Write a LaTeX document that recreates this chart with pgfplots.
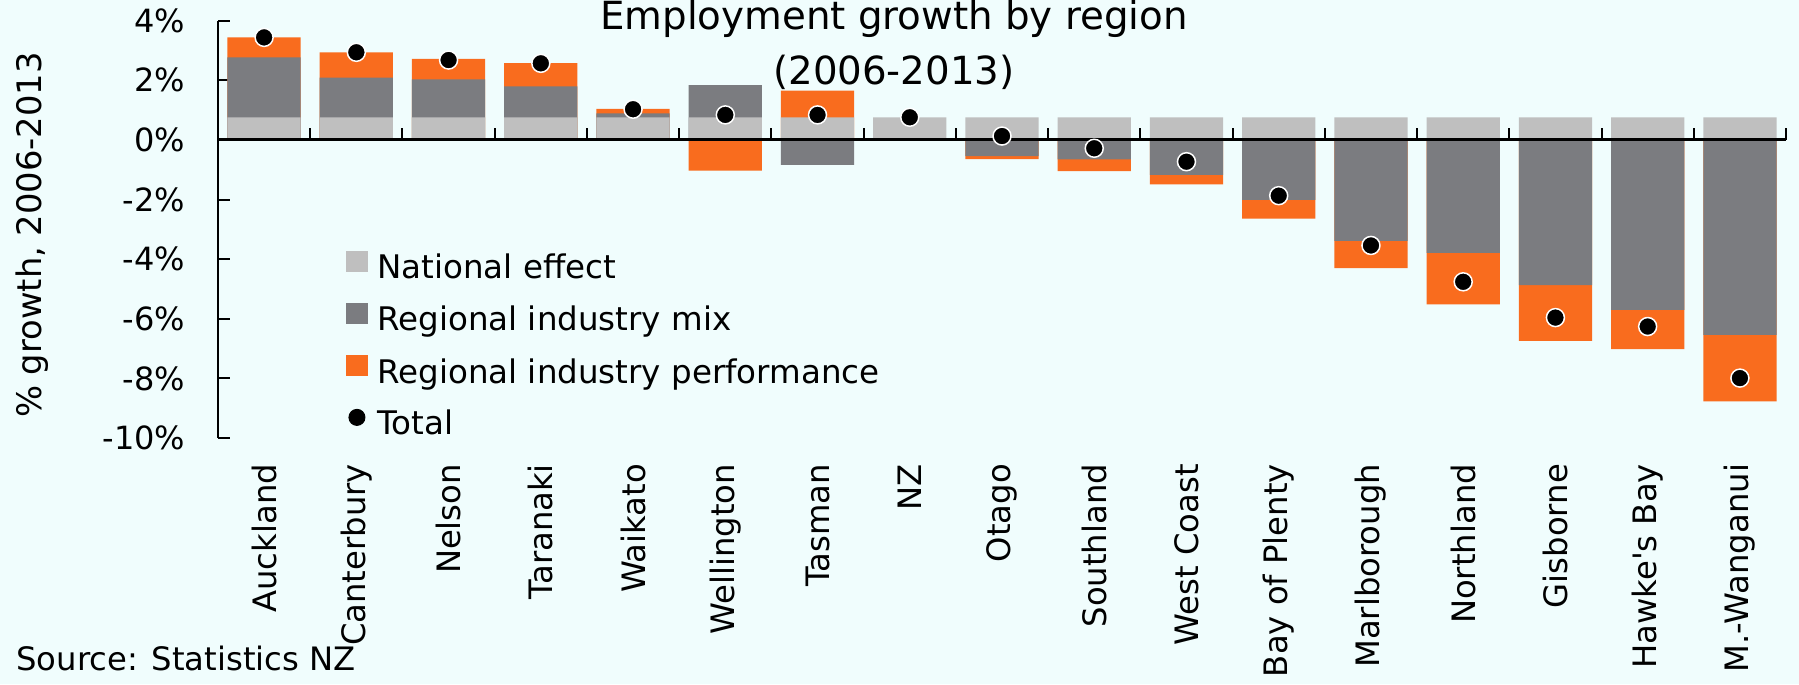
\documentclass[border=0pt]{standalone}
\usepackage{fontspec}
\setmainfont{DejaVu Sans}[Ligatures=TeXOff]
\usepackage{pgfplots}
\pgfplotsset{compat=1.18}
\definecolor{bgc}{RGB}{240,253,253}
\definecolor{natgray}{RGB}{191,191,191}
\definecolor{mixgray}{RGB}{123,124,128}
\definecolor{perfor}{RGB}{249,108,30}
\begin{document}
\begin{tikzpicture}
\fill[bgc, use as bounding box] (0,0) rectangle (719.6pt,273.6pt);
\begin{axis}[
  at={(87.2pt,98.4pt)}, anchor=south west,
  scale only axis, width=627.2pt, height=166.92pt,
  xmin=-0.5, xmax=16.5, ymin=-10, ymax=4,
  axis lines*=left,
  x axis line style={draw=none},
  y axis line style={line width=0.8pt, black},
  tick align=inside,
  major tick length=4.8pt,
  xtick={0,...,16},
  xtick style={draw=none},
  xticklabels={Auckland,Canterbury,Nelson,Taranaki,Waikato,Wellington,Tasman,NZ,Otago,Southland,West Coast,Bay of Plenty,Marlborough,Northland,Gisborne,Hawke's Bay,M.-Wanganui},
  xticklabel style={rotate=90, anchor=east, font=\fontsize{12.9}{15}\selectfont},
  xticklabel shift=6.9pt,
  ytick={-10,-8,-6,-4,-2,0,2,4},
  yticklabels={-10\%,-8\%,-6\%,-4\%,-2\%,0\%,2\%,4\%},
  yticklabel style={font=\fontsize{12.8}{15}\selectfont},
  yticklabel shift=9.6pt,
  ytick style={line width=0.8pt, black},
  clip=false,
  legend style={at={(rel axis cs:0.0816,0.449)}, anchor=north west, draw=none, fill=none,
    inner sep=0pt, outer sep=0pt, row sep=5.7pt,
    font=\fontsize{13}{15}\selectfont,
    nodes={inner sep=1pt, text height=10pt, text depth=3pt},
    /tikz/every odd column/.append style={column sep=2.8pt}},
  legend cell align=left,
]
\addlegendimage{legend image code/.code={\fill[natgray] (0pt,-0.5pt) rectangle (8.4pt,7.5pt);}}
\addlegendentry{National effect}
\addlegendimage{legend image code/.code={\fill[mixgray] (0pt,-0.5pt) rectangle (8.4pt,7.5pt);}}
\addlegendentry{Regional industry mix}
\addlegendimage{legend image code/.code={\fill[perfor] (0pt,-0.5pt) rectangle (8.4pt,7.5pt);}}
\addlegendentry{Regional industry performance}
\addlegendimage{legend image code/.code={\fill[black] (4.2pt,3.5pt) circle (3.2pt);}}
\addlegendentry{Total}
% positive cumulative tops: national + mix + performance
\addplot[ybar, bar width=29.3pt, bar shift=0pt, fill=perfor, draw=none, forget plot] coordinates {
 (0,3.44) (1,2.94) (2,2.72) (3,2.58) (4,1.04) (6,1.65)};
% positive national + mix
\addplot[ybar, bar width=29.3pt, bar shift=0pt, fill=mixgray, draw=none, forget plot] coordinates {
 (0,2.77) (1,2.09) (2,2.03) (3,1.80) (4,0.89) (5,1.84)};
% national effect
\addplot[ybar, bar width=29.3pt, bar shift=0pt, fill=natgray, draw=none, forget plot] coordinates {
 (0,0.76) (1,0.76) (2,0.76) (3,0.76) (4,0.76) (5,0.76) (6,0.76) (7,0.76) (8,0.76)
 (9,0.76) (10,0.76) (11,0.76) (12,0.76) (13,0.76) (14,0.76) (15,0.76) (16,0.76)};
% negative cumulative: mix + performance
\addplot[ybar, bar width=29.3pt, bar shift=0pt, fill=perfor, draw=none, forget plot] coordinates {
 (5,-1.03) (8,-0.64) (9,-1.05) (10,-1.49) (11,-2.64) (12,-4.30) (13,-5.52) (14,-6.74) (15,-7.02) (16,-8.77)};
% negative mix
\addplot[ybar, bar width=29.3pt, bar shift=0pt, fill=mixgray, draw=none, forget plot] coordinates {
 (6,-0.84) (8,-0.54) (9,-0.65) (10,-1.17) (11,-2.01) (12,-3.39) (13,-3.79) (14,-4.87) (15,-5.70) (16,-6.54)};
\draw[line width=1.2pt, black] (axis cs:-0.5,0) -- (axis cs:16.5,0);
\pgfplotsinvokeforeach{0.5,1.5,2.5,3.5,4.5,5.5,6.5,7.5,8.5,9.5,10.5,11.5,12.5,13.5,14.5,15.5,16.5}{
  \draw[line width=0.8pt, black] (axis cs:#1,0) -- ++(0pt,4.8pt);}
% totals
\addplot[only marks, mark=*, mark size=3.6pt, mark options={fill=black, draw=white, line width=0.6pt}, forget plot] coordinates {
 (0,3.44) (1,2.94) (2,2.68) (3,2.57) (4,1.03) (5,0.84) (6,0.84) (7,0.76) (8,0.13)
 (9,-0.28) (10,-0.73) (11,-1.87) (12,-3.54) (13,-4.76) (14,-5.96) (15,-6.26) (16,-7.99)};
\end{axis}
\node[anchor=base, font=\fontsize{15.5}{18}\selectfont] at (357.6pt,261.6pt) {Employment growth by region};
\node[anchor=base, font=\fontsize{15.5}{18}\selectfont] at (357.6pt,239.6pt) {(2006-2013)};
\node[rotate=90, font=\fontsize{13.5}{16}\selectfont] at (12.8pt,179.6pt) {\% growth, 2006-2013};
\node[anchor=base west, inner sep=0pt, font=\fontsize{12.9}{15}\selectfont] at (6.4pt,5.6pt) {Source: Statistics NZ};
\end{tikzpicture}
\end{document}
